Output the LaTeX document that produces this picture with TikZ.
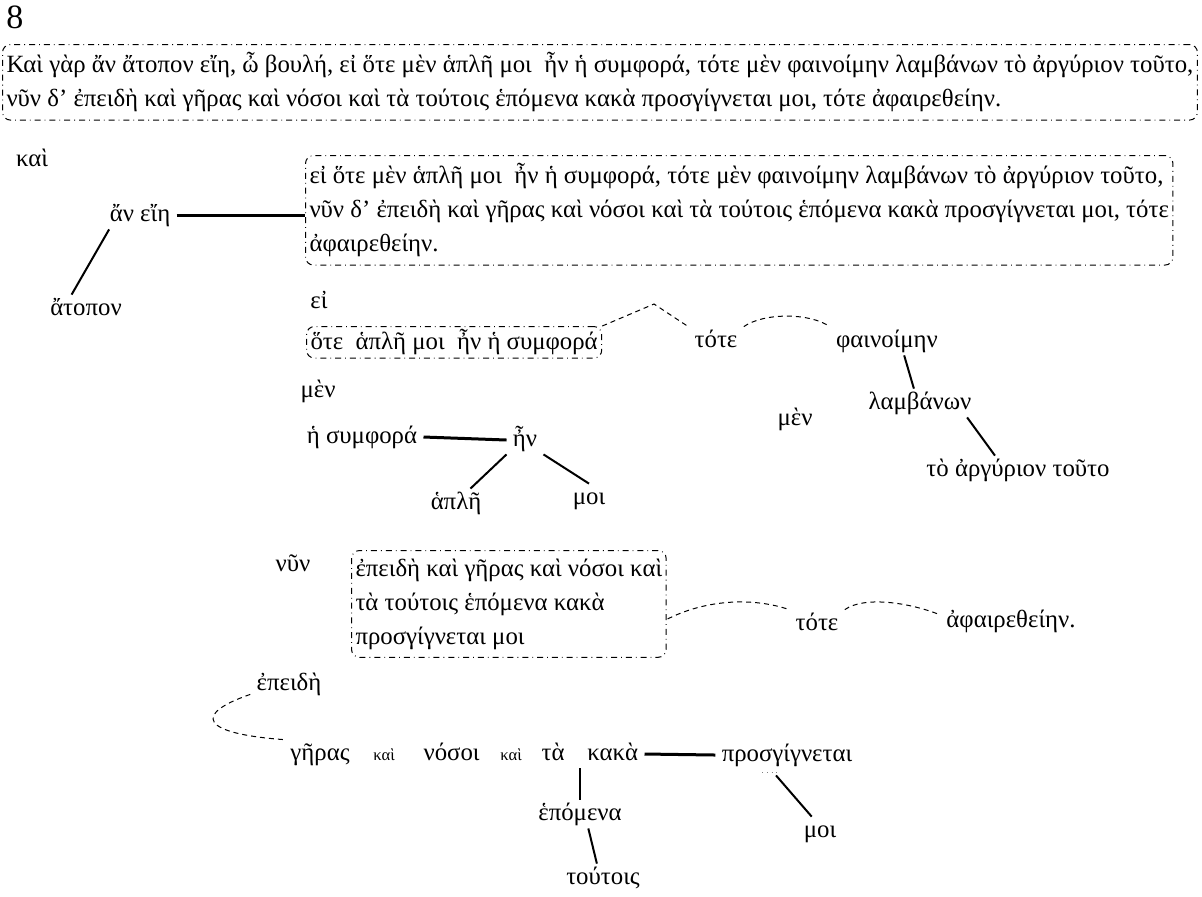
\documentclass[tikz,border=0pt]{standalone}
\usepackage{fontspec}
\setmainfont{Liberation Serif}
\usepackage{tikz}
\usetikzlibrary{positioning, calc}

\begin{document}
\begin{tikzpicture}[
    x=0.5pt, y=-0.5pt,
    word/.style={inner xsep=3pt, inner ysep=1pt, text height=9pt, text depth=3pt, font=\fontsize{12.4}{14}\selectfont},
    small/.style={word, font=\fontsize{8.3}{9}\selectfont},
    clause/.style={draw, dash dot, line width=0.5pt, rounded corners=4pt, align=left, anchor=north west, inner xsep=2pt, inner ysep=4pt, font=\fontsize{12.4}{17}\selectfont},
    link/.style={line width=1pt},
    mainlink/.style={line width=1.5pt},
    loose/.style={dash pattern=on 2.5pt off 2pt, line width=0.5pt}
]
    \useasboundingbox (0,0) rectangle (1202,896);

    \node[anchor=north west, inner sep=0pt, font=\fontsize{17}{20}\selectfont] (num) at (6,5) {8};
    \node[clause] (sent) at (2,44) {Καὶ γὰρ ἄν ἄτοπον εἴη, ὦ βουλή, εἰ ὅτε μὲν ἁπλῆ μοι~ ἦν ἡ συμφορά, τότε μὲν φαινοίμην λαμβάνων τὸ ἀργύριον τοῦτο,\\νῦν δ’ ἐπειδὴ καὶ γῆρας καὶ νόσοι καὶ τὰ τούτοις ἑπόμενα κακὰ προσγίγνεται μοι, τότε ἀφαιρεθείην.};

    \node[word] (kai) at (32,160) {καὶ};
    \node[word] (aneie) at (140,215) {ἄν εἴη};
    \node[word] (atopon) at (86,309) {ἄτοπον};
    \node[clause] (cl) at (305,155) {εἰ ὅτε μὲν ἁπλῆ μοι~ ἦν ἡ συμφορά, τότε μὲν φαινοίμην λαμβάνων τὸ ἀργύριον τοῦτο,\\νῦν δ’ ἐπειδὴ καὶ γῆρας καὶ νόσοι καὶ τὰ τούτοις ἑπόμενα κακὰ προσγίγνεται μοι, τότε\\ἀφαιρεθείην.};

    \node[word] (ei) at (319,302) {εἰ};
    \node[clause, inner ysep=1.5pt] (protasis) at (306,326) {ὅτε~ ἁπλῆ μοι~ ἦν ἡ συμφορά};
    \coordinate (peak) at (654,304);
    \node[word] (tote1) at (716,341) {τότε};
    \node[word] (phain) at (887,341) {φαινοίμην};
    \node[word] (lamb) at (920,403) {λαμβάνων};
    \node[word] (men2) at (795,419) {μὲν};
    \node[word] (argyr) at (1018,470) {τὸ ἀργύριον τοῦτο};

    \node[word] (men1) at (318,391) {μὲν};
    \node[word] (symph) at (362,437) {ἡ συμφορά};
    \node[word] (en) at (525,440) {ἦν};
    \node[word] (aple) at (456,503) {ἁπλῆ};
    \node[word] (moi1) at (589,498) {μοι};

    \node[word] (nyn) at (293,565) {νῦν};
    \node[clause] (epbox) at (351,550) {ἐπειδὴ καὶ γῆρας καὶ νόσοι καὶ\\τὰ τούτοις ἑπόμενα κακὰ\\προσγίγνεται μοι};
    \node[word] (tote2) at (817,624) {τότε};
    \node[word] (aphair) at (1011,621) {ἀφαιρεθείην.};

    \node[word] (epeidh) at (289,684) {ἐπειδὴ};
    \node[word] (geras) at (320,754) {γῆρας};
    \node[small, right=5.5pt of geras] (kai2) {καὶ};
    \node[word, right=8pt of kai2] (nosoi) {νόσοι};
    \node[small, right=4pt of nosoi] (kai3) {καὶ};
    \node[word, right=3.5pt of kai3] (ta) {τὰ};
    \node[word, right=5pt of ta] (kaka) {κακὰ};
    \node[word] (hepom) at (580,814) {ἑπόμενα};
    \node[word] (toutois) at (603,878) {τούτοις};
    \node[word] (pros) at (787,755) {προσγίγνεται};
    \node[word] (moi2) at (820,831) {μοι};

    \draw[mainlink] (aneie.east) -- (aneie.east -| cl.west);
    \draw[link] (aneie.-155) -- (atopon.135);
    \draw[loose] (protasis.north east) -- (peak) -- (tote1.north west);
    \draw[loose] (tote1.north east) .. controls +(20,-14) and +(-20,-14) .. (phain.north west);
    \draw[link] (phain.-40) -- (lamb.113);
    \draw[link] (lamb.-17) -- (argyr.148);
    \draw[mainlink] (symph.east) -- (en.west);
    \draw[link] (en.south west) -- (aple.45);
    \draw[link] (en.south east) -- (moi1.north);
    \draw[loose] ($(epbox.east)+(1,15)$) .. controls +(40,-20) and +(-35,-12) .. (tote2.north west);
    \draw[loose] (tote2.north east) .. controls +(20,-14) and +(-30,-12) .. (aphair.175);
    \draw[loose] (epeidh.-165) .. controls +(-58,20) and +(-83,-6) .. (geras.north west);
    \draw[link] (hepom.north |- kaka.south) -- (hepom.north);
    \draw[link] (hepom.-60) -- (toutois.113);
    \draw[mainlink] (kaka.east) -- (pros.west);
    \draw[dotted, gray] ($(pros.south)+(-25,3)$) -- ($(pros.south)+(-9,3)$);
    \draw[link] ($(pros.south)+(-11,6)$) -- (moi2.120);
\end{tikzpicture}
\end{document}
